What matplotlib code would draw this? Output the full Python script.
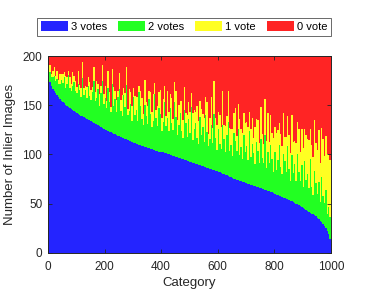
import numpy as np
import matplotlib
matplotlib.use("Agg")
from matplotlib import pyplot as plt

plt.rcParams['font.family'] = ['Liberation Sans', 'DejaVu Sans']

# categories are sorted by number of 3-vote images; grouped 5 per bar
bin_width = 5
total_images = 200

three_votes = [
    180, 174, 170, 167, 164, 162, 160, 158, 156, 154,
    153, 152, 150, 149, 148, 147, 146, 145, 144, 143,
    142, 141, 140, 139, 139, 138, 137, 136, 135, 135,
    134, 133, 132, 131, 131, 130, 129, 128, 127, 126,
    125, 125, 124, 123, 123, 122, 121, 121, 120, 119,
    119, 118, 117, 117, 116, 116, 115, 114, 114, 113,
    112, 112, 111, 111, 110, 110, 109, 109, 108, 108,
    107, 107, 106, 106, 105, 105, 104, 104, 103, 103,
    102, 102, 101, 101, 100, 100, 99, 99, 98, 98,
    97, 97, 96, 96, 95, 95, 94, 94, 93, 93,
    92, 92, 91, 91, 90, 90, 89, 89, 88, 88,
    87, 87, 86, 86, 85, 85, 84, 84, 83, 83,
    82, 82, 81, 80, 80, 79, 79, 78, 77, 77,
    76, 75, 75, 74, 74, 73, 73, 72, 72, 71,
    71, 70, 70, 69, 69, 68, 68, 67, 67, 66,
    66, 65, 65, 64, 64, 63, 63, 62, 62, 61,
    60, 59, 59, 58, 58, 57, 56, 56, 55, 55,
    54, 53, 53, 52, 51, 50, 50, 49, 48, 47,
    46, 45, 44, 43, 42, 41, 40, 39, 38, 37,
    35, 34, 32, 31, 29, 27, 25, 22, 19, 14,
]

two_votes = [
    7, 10, 9, 12, 16, 13, 17, 14, 16, 22,
    20, 27, 18, 23, 33, 21, 18, 25, 30, 22,
    20, 31, 26, 19, 39, 22, 29, 21, 35, 24,
    21, 30, 43, 23, 26, 37, 20, 34, 48, 25,
    32, 22, 44, 30, 20, 50, 28, 35, 23, 39,
    48, 26, 22, 43, 32, 55, 25, 30, 37, 21,
    46, 28, 34, 23, 53, 39, 27, 21, 42, 31,
    24, 49, 35, 22, 29, 56, 33, 25, 44, 38,
    22, 31, 52, 28, 37, 24, 48, 33, 27, 55,
    41, 23, 34, 46, 29, 22, 51, 38, 25, 43,
    30, 56, 24, 35, 42, 27, 22, 49, 32, 40,
    26, 53, 37, 23, 31, 45, 28, 57, 34, 22,
    44, 29, 25, 50, 36, 24, 41, 55, 27, 33,
    22, 47, 39, 30, 52, 26, 35, 23, 48, 31,
    38, 24, 54, 28, 42, 33, 22, 46, 37, 25,
    50, 31, 26, 56, 22, 39, 28, 48, 33, 21,
    42, 25, 35, 52, 29, 23, 44, 37, 27, 54,
    31, 20, 46, 29, 39, 23, 50, 33, 25, 42,
    21, 48, 30, 37, 24, 54, 27, 20, 45, 34,
    25, 38, 20, 46, 29, 24, 39, 17, 28, 22,
]

one_vote = [
    4, 7, 3, 6, 9, 5, 8, 4, 10, 6,
    9, 5, 12, 7, 4, 11, 8, 14, 6, 10,
    7, 13, 5, 10, 16, 8, 4, 12, 9, 15,
    11, 6, 14, 9, 18, 5, 12, 8, 16, 10,
    13, 7, 17, 10, 5, 15, 20, 9, 12, 6,
    16, 11, 21, 8, 14, 18, 6, 23, 12, 15,
    10, 19, 13, 24, 7, 16, 21, 11, 26, 14,
    18, 9, 22, 15, 27, 12, 8, 20, 16, 25,
    13, 23, 17, 10, 28, 19, 14, 25, 11, 21,
    26, 15, 20, 12, 30, 18, 24, 10, 22, 17,
    21, 14, 27, 19, 11, 32, 23, 16, 26, 13,
    24, 18, 30, 12, 21, 28, 15, 34, 20, 25,
    17, 29, 22, 35, 14, 26, 19, 31, 23, 16,
    28, 20, 33, 15, 25, 37, 18, 27, 22, 30,
    24, 34, 19, 29, 26, 16, 38, 23, 31, 21,
    32, 25, 20, 36, 28, 40, 22, 30, 27, 35,
    26, 38, 31, 22, 34, 29, 42, 25, 36, 30,
    35, 28, 41, 32, 24, 39, 33, 44, 29, 37,
    40, 33, 46, 36, 49, 31, 43, 38, 52, 41,
    45, 53, 39, 50, 58, 47, 55, 61, 52, 58,
]

labels = ['3 votes', '2 votes', '1 vote', '0 vote']
colors = ['#2424ff', '#22ff22', '#ffff22', '#ff2424']

b3 = np.array(three_votes)
b2 = np.array(two_votes)
b1 = np.array(one_vote)
b0 = total_images - b3 - b2 - b1

x = np.arange(len(b3)) * bin_width

fig = plt.figure(figsize=(3.66, 2.92), dpi=100)
ax = fig.add_axes([0.131, 0.134, 0.773, 0.674])

bottom = np.zeros(len(b3))
bars = []
for vals, c, lab in zip([b3, b2, b1, b0], colors, labels):
    h = ax.bar(x, vals, width=bin_width, bottom=bottom, align='edge',
               color=c, linewidth=0, label=lab)
    bars.append(h)
    bottom = bottom + vals

ax.set_xlim(0, 1000)
ax.set_ylim(0, 200)
ax.set_xticks([0, 200, 400, 600, 800, 1000])
ax.set_yticks([0, 50, 100, 150, 200])
ax.tick_params(direction='in', length=3, width=0.6, labelsize=8.5,
               top=True, right=True, colors='#262626')
ax.tick_params(axis='x', pad=6)
ax.tick_params(axis='y', pad=4)
for s in ax.spines.values():
    s.set_linewidth(0.7)
    s.set_color('#262626')

ax.set_xlabel('Category', fontsize=9.5, color='#262626', labelpad=3)
ax.set_ylabel('Number of Inlier Images', fontsize=9.5, color='#262626', labelpad=5)

leg = fig.legend(handles=bars, labels=labels, ncol=4, loc='center',
                 bbox_to_anchor=(0.503, 0.908), fontsize=8, frameon=True,
                 fancybox=False, edgecolor='#262626', handlelength=2.43,
                 handleheight=1.0, handletextpad=0.27, columnspacing=1.0,
                 borderpad=0.35, borderaxespad=0)
leg.get_frame().set_linewidth(0.6)

fig.savefig('out.png', dpi=100)
